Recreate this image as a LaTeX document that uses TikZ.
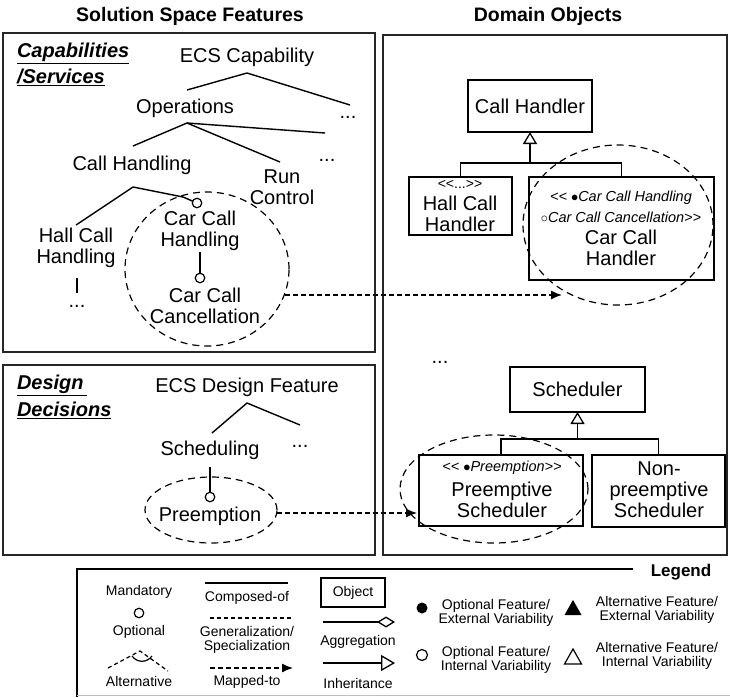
\documentclass[tikz,border=0pt]{standalone}
\usepackage{fontspec}
\setmainfont{Liberation Sans}
\usetikzlibrary{arrows.meta,shapes.geometric}
\begin{document}
\begin{tikzpicture}[x=1pt,y=-1pt,
 every node/.style={inner sep=0pt, outer sep=0pt},
 big/.style={font=\fontsize{20}{21}\selectfont, align=center},
 head/.style={font=\fontsize{19.5}{22}\selectfont\bfseries},
 sec/.style={font=\fontsize{20}{24}\selectfont\bfseries\itshape, anchor=west},
 small/.style={font=\fontsize{14.5}{15}\selectfont\itshape},
 leg/.style={font=\fontsize{14}{13.5}\selectfont, align=center},
 frame/.style={draw=black!85, line width=2pt},
 tree/.style={line width=1.4pt},
 opt/.style={circle, draw, line width=1.2pt, minimum size=9.5pt, fill=white},
 cls/.style={draw, line width=1.4pt, rectangle},
 dell/.style={ellipse, draw, dash pattern=on 7pt off 5pt, line width=1.2pt},
 mapto/.style={line width=1.3pt, dash pattern=on 4.5pt off 3.5pt, -{Latex[length=11pt,width=9pt]}},
 inh/.style={line width=1.3pt, -{Triangle[open,length=12pt,width=14pt]}},
]
\useasboundingbox (0,0) rectangle (730,697);

% titles
\node[head] (t1) at (190,16) {Solution Space Features};
\node[head] (t2) at (548,16) {Domain Objects};

% frames
\draw[frame] (3,33) rectangle (375,352);
\draw[frame] (383,35) rectangle (727,555);
\draw[frame] (3,365) rectangle (375,555);

% ---------- capabilities ----------
\node[sec] (s1) at (17,53) {\underline{Capabilities}};
\node[sec] (s2) at (17,77) {\underline{/Services}};

\node[big] (ecs) at (247,57) {ECS Capability};
\node[big] (ops) at (185,108) {Operations};
\node[big] (d1) at (348,117) {...};
\node[big] (ch) at (132,165) {Call Handling};
\node[big] (d2) at (327,160) {...};
\node[big] (rc) at (282,187) {Run\\Control};
\node[big] (hch) at (76,248) {Hall Call\\Handling};
\node[big] (cch) at (200,231) {Car Call\\Handling};
\node[big] (d3) at (77,306) {...};
\node[big] (ccc) at (205,306) {Car Call\\Cancellation};

\coordinate (a1) at (247,73);
\coordinate (a1l) at (187,90);
\coordinate (a1r) at (350,105);
\draw[tree] (a1l) -- (a1) -- (a1r);
\coordinate (a2) at (187,123);
\coordinate (a2l) at (133,146);
\coordinate (a2m) at (280,162);
\coordinate (a2r) at (325,133);
\draw[tree] (a2l) -- (a2) -- (a2m);
\draw[tree] (a2) -- (a2r);
\coordinate (a3) at (133,187);
\coordinate (a3l) at (76,225);
\draw[tree] (a3l) -- (a3);
\node[opt] (o1) at (197,203) {};
\draw[tree] (a3) -- (183,197) -- (o1);
\coordinate (a5) at (200,252);
\node[opt] (o2) at (200,278) {};
\draw[tree] (a5) -- (o2);
\coordinate (h1) at (77,278);
\coordinate (h2) at (77,293);
\draw[tree] (h1) -- (h2);

\node[dell, minimum width=164pt, minimum height=154pt] (e1) at (207,269) {};

% ---------- design decisions ----------
\node[sec] (s3) at (17,385) {\underline{Design\,}};
\node[sec] (s4) at (17,410) {\underline{Decisions}};
\node[big] (edf) at (247,387) {ECS Design Feature};
\node[big] (sch) at (210,450) {Scheduling};
\node[big] (d4) at (300,446) {...};
\node[big] (pre) at (210,516) {Preemption};
\coordinate (a4) at (247,403);
\coordinate (a4l) at (212,433);
\coordinate (a4r) at (300,425);
\draw[tree] (a4l) -- (a4) -- (a4r);
\coordinate (a6) at (210,467);
\node[opt] (o3) at (210,497) {};
\draw[tree] (a6) -- (o3);
\node[dell, minimum width=132pt, minimum height=66pt] (e2) at (211,510) {};

% ---------- domain objects ----------
\node[cls, minimum width=124pt, minimum height=52pt] (CH) at (530,106) {};
\node[big] (CHt) at (530,106) {Call Handler};
\node[cls, minimum width=103pt, minimum height=58pt] (HCH) at (460.5,206) {};
\node[font=\fontsize{14}{14}\selectfont] (HCHs) at (460,184) {<{}<...>{}>};
\node[big] (HCHt) at (460,214) {Hall Call\\Handler};
\node[cls, minimum width=185pt, minimum height=103pt] (CCH) at (621.5,228.5) {};
\node[small] (CCHs1) at (621,198) {<{}<\ $\bullet$Car Call Handling};
\node[small] (CCHs2) at (621,217) {$\circ$Car Call Cancellation>{}>};
\node[big] (CCHt) at (621,248) {Car Call\\Handler};
\coordinate (j1) at (530,163);
\draw[inh] (j1) -- (CH.south);
\draw[line width=1.3pt] (HCH.north) -- ++(0,-14) -| (CCH.north);
\node[dell, minimum width=190pt, minimum height=160pt] (e3) at (618,225) {};

\node[big] (d5) at (440,362) {...};
\node[cls, minimum width=135pt, minimum height=45pt] (SC) at (577.5,389.5) {};
\node[big] (SCt) at (577.5,389.5) {Scheduler};
\node[cls, minimum width=164pt, minimum height=71pt] (PS) at (501,490.5) {};
\node[small] (PSs) at (502,468) {<{}<\ $\bullet$Preemption>{}>};
\node[big] (PSt) at (502,500) {Preemptive\\Scheduler};
\node[cls, minimum width=133pt, minimum height=72pt] (NS) at (658.5,491) {};
\node[big] (NSt) at (659,490) {Non-\\preemptive\\Scheduler};
\coordinate (j2) at (577.5,439);
\draw[inh] (j2) -- (SC.south);
\draw[line width=1.3pt] (PS.north) -- ++(0,-16) -| (NS.north);
\node[dell, minimum width=188pt, minimum height=108pt] (e4) at (494,489) {};

% mapped-to arrows
\coordinate (m1s) at (285,295);
\coordinate (m1e) at (562,295);
\draw[mapto] (m1s) -- (m1e);
\coordinate (m2s) at (277,513);
\coordinate (m2e) at (417,513);
\draw[mapto] (m2s) -- (m2e);

% ---------- legend ----------
\draw[line width=1.5pt] (633,569) -- (77,569) -- (77,697);
\draw[black!25, line width=1.2pt] (77,695.5) -- (730,695.5);
\node[font=\fontsize{17}{18}\selectfont\bfseries] (LG) at (681,572) {Legend};

\node[leg] (Lm) at (139,592) {Mandatory};
\node[opt] (Lo) at (139,613) {};
\node[leg] (Lot) at (139,632) {Optional};
\coordinate (La) at (140,651);
\coordinate (Lal) at (108,668);
\coordinate (Lar) at (168,671);
\draw[line width=1.2pt, dash pattern=on 4pt off 3pt] (Lal) -- (La) -- (Lar);
\draw[line width=1.2pt] (132,656) .. controls (137,663) and (147,663) .. (152,656);
\node[leg] (Lat) at (139,681) {Alternative};

\coordinate (Lc1) at (205,583);
\coordinate (Lc2) at (288,583);
\draw[line width=1.3pt] (Lc1) -- (Lc2);
\node[leg] (Lct) at (247,598) {Composed-of};
\coordinate (Lg1) at (210,618);
\coordinate (Lg2) at (293,618);
\draw[line width=1.2pt, dash pattern=on 4pt off 3pt] (Lg1) -- (Lg2);
\node[leg] (Lgt) at (247,640) {Generalization/\\Specialization};
\coordinate (Lmp1) at (210,668);
\coordinate (Lmp2) at (293,668);
\draw[mapto] (Lmp1) -- (Lmp2);
\node[leg] (Lmt) at (247,682) {Mapped-to};

\node[cls, minimum width=64pt, minimum height=29pt] (Lob) at (353,592.5) {};
\node[leg] (Lobt) at (353,592.5) {Object};
\coordinate (Lag1) at (323,622);
\coordinate (Lag2) at (395,622);
\draw[line width=1.3pt, -{Diamond[open,length=18pt,width=11pt]}] (Lag1) -- (Lag2);
\node[leg] (Lagt) at (358,642) {Aggregation};
\coordinate (Lin1) at (323,663);
\coordinate (Lin2) at (395,663);
\draw[line width=1.3pt, -{Triangle[open,length=14pt,width=16pt]}] (Lin1) -- (Lin2);
\node[leg] (Lint) at (358,683) {Inheritance};

\fill (422,608) circle (5.5pt);
\node[leg] (Lof) at (496,613) {Optional Feature/\\External Variability};
\draw[line width=1.2pt] (422,655) circle (5.5pt);
\node[leg] (Loi) at (496,660) {Optional Feature/\\Internal Variability};
\fill (573,600) -- (564.5,615) -- (581.5,615) -- cycle;
\node[leg] (Laf) at (657,610) {Alternative Feature/\\External Variability};
\draw[line width=1.2pt] (573,649) -- (564.5,664) -- (581.5,664) -- cycle;
\node[leg] (Lai) at (657,656) {Alternative Feature/\\Internal Variability};
\end{tikzpicture}
\end{document}
